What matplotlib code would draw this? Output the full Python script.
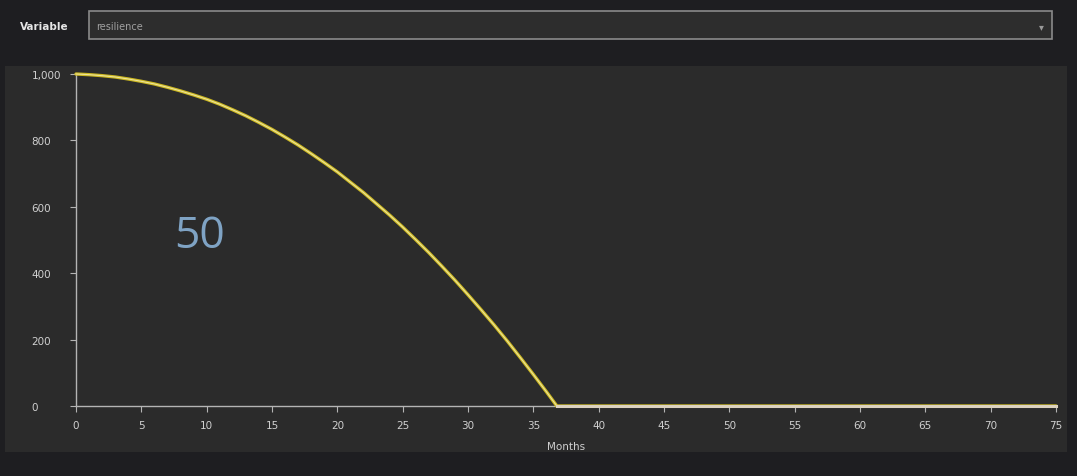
import matplotlib
matplotlib.use("Agg")
import matplotlib.pyplot as plt
from matplotlib.patches import Rectangle

# ---- data ----
months = [0, 1, 2, 3, 4, 5, 6, 7, 8, 9, 10, 11, 12, 13, 14, 15, 16, 17, 18, 19,
          20, 21, 22, 23, 24, 25, 26, 27, 28, 29, 30, 31, 32, 33, 34, 35, 36, 36.8,
          40, 45, 50, 55, 60, 65, 70, 75]
resilience = [1000, 998, 995, 991, 985, 978, 970, 960, 949, 937, 924, 909, 892, 874,
              854, 833, 810, 786, 760, 733, 705, 674, 643, 609, 575, 539, 501, 462,
              421, 379, 335, 290, 244, 196, 146, 95, 43, 0,
              0, 0, 0, 0, 0, 0, 0, 0]
x_ticks = list(range(0, 76, 5))
y_ticks = [0, 200, 400, 600, 800, 1000]
y_tick_labels = ["0", "200", "400", "600", "800", "1,000"]
variable_label = "Variable"
variable_value = "resilience"
x_label = "Months"
overlay_text = "50"

W, H = 1077, 477
fig = plt.figure(figsize=(W / 100, H / 100), dpi=100)
fig.patch.set_facecolor("#1e1e21")

def px(x0, y0, x1, y1):
    return [x0 / W, 1 - y1 / H, (x1 - x0) / W, (y1 - y0) / H]

# panel background
b = px(5, 67, 1067, 453)
fig.patches.append(Rectangle((b[0], b[1]), b[2], b[3], transform=fig.transFigure,
                             facecolor="#2b2b2b", edgecolor="none", zorder=-5))
# dropdown box
d = px(89, 12, 1052, 40)
fig.patches.append(Rectangle((d[0], d[1]), d[2], d[3], transform=fig.transFigure,
                             facecolor="#2d2d2d", edgecolor="#8a8a8a", linewidth=1.2, zorder=-4))
fig.text(20 / W, 1 - 27 / H, variable_label, color="#e6e6e6", fontsize=7.5,
         fontweight="bold", va="center", ha="left", family="DejaVu Sans")
fig.text(96 / W, 1 - 27 / H, variable_value, color="#a0a0a0", fontsize=7,
         va="center", ha="left", family="DejaVu Sans")
fig.text(1041 / W, 1 - 27 / H, "▾", color="#9a9a9a", fontsize=7,
         va="center", ha="center", family="DejaVu Sans")

ax = fig.add_axes(px(76, 75, 1056, 407))
ax.set_zorder(2)
ax.set_facecolor("none")
ax.plot(months, resilience, color="#cdb922", linewidth=2.4, clip_on=False,
        solid_capstyle="round", zorder=3)
ax.plot(months, resilience, color="#ece39a", linewidth=0.8, clip_on=False, zorder=4)
# flat zero segment appears cream over the axis line
zero_idx = [i for i, v in enumerate(resilience) if v == 0]
ax.plot([months[i] for i in zero_idx], [resilience[i] for i in zero_idx],
        color="#dcd2c0", linewidth=2.2, clip_on=False, zorder=5)
ax.set_xlim(0, 75)
ax.set_ylim(0, 1000)
ax.set_xticks(x_ticks)
ax.set_yticks(y_ticks)
ax.set_yticklabels(y_tick_labels)
for s in ["top", "right"]:
    ax.spines[s].set_visible(False)
for s in ["left", "bottom"]:
    ax.spines[s].set_color("#b4b4b4")
    ax.spines[s].set_linewidth(1.0)
ax.tick_params(axis="both", colors="#b4b4b4", labelcolor="#d0d0d0", labelsize=7.5,
               length=4, width=0.8)
ax.tick_params(axis="y", pad=28)
for lbl in ax.get_yticklabels():
    lbl.set_ha("left")
ax.tick_params(axis="x", pad=6)
ax.set_xlabel(x_label, color="#d0d0d0", fontsize=7.5, labelpad=8)

fig.text(200 / W, 1 - 237 / H, overlay_text, color="#7fa3c4", fontsize=32,
         va="center", ha="center", family=["Open Sans", "DejaVu Sans"], zorder=5)

fig.savefig("out.png", dpi=100, facecolor=fig.get_facecolor())
